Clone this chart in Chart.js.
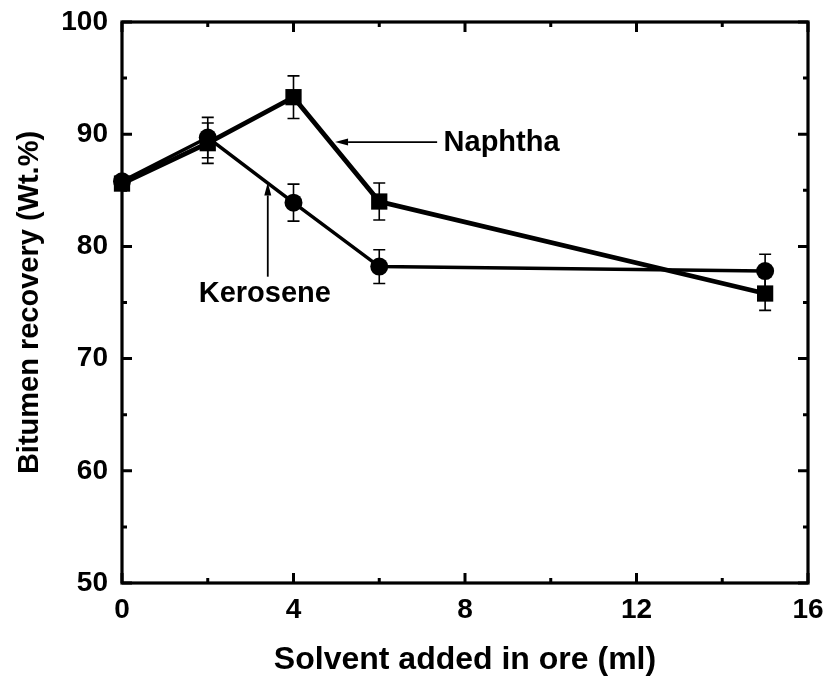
<!DOCTYPE html>
<html>
<head>
<meta charset="utf-8">
<title>Bitumen recovery vs solvent added</title>
<script src="https://cdn.jsdelivr.net/npm/chart.js@4.4.1/dist/chart.umd.min.js"></script>
<style>
  html, body { margin: 0; padding: 0; background: #ffffff; }
  #wrap { width: 831px; height: 684px; }
</style>
</head>
<body>
<div id="wrap"><canvas id="chart" width="831" height="684"></canvas></div>
<script>
// Solvent dosage (ml) and measured bitumen recovery (wt.%) with error bar half-widths
const solventMl = [0, 2, 4, 6, 15];
const naphthaRecovery = [85.6, 89.2, 93.3, 84.0, 75.8];
const naphthaError = [0, 1.8, 1.9, 1.65, 1.5];
const keroseneRecovery = [85.8, 89.7, 83.9, 78.2, 77.8];
const keroseneError = [0, 1.8, 1.65, 1.5, 1.5];

const xTicks = [0, 4, 8, 12, 16];
const yTicks = [50, 60, 70, 80, 90, 100];
const xMinorTicks = [2, 6, 10, 14];
const yMinorTicks = [55, 65, 75, 85, 95];

const FONT = "'Liberation Sans', Arial, Helvetica, sans-serif";

function toPoints(xs, ys, errs) {
  return xs.map((x, i) => ({ x: x, y: ys[i], err: errs[i] }));
}

// Vertical error bars with caps, drawn underneath the markers
const errorBars = {
  id: 'errorBars',
  beforeDatasetsDraw(chart) {
    const { ctx, scales: { x, y } } = chart;
    ctx.save();
    ctx.strokeStyle = '#000';
    ctx.lineWidth = 1.6;
    const cap = 6;
    chart.data.datasets.forEach(ds => {
      ds.data.forEach(p => {
        if (!p.err) return;
        const px = x.getPixelForValue(p.x);
        const top = y.getPixelForValue(p.y + p.err);
        const bot = y.getPixelForValue(p.y - p.err);
        ctx.beginPath();
        ctx.moveTo(px, top); ctx.lineTo(px, bot);
        ctx.moveTo(px - cap, top); ctx.lineTo(px + cap, top);
        ctx.moveTo(px - cap, bot); ctx.lineTo(px + cap, bot);
        ctx.stroke();
      });
    });
    ctx.restore();
  }
};

// Closed frame with inward-pointing major and minor ticks on all four sides
const frameTicks = {
  id: 'frameTicks',
  afterDraw(chart) {
    const { ctx, chartArea: a, scales: { x, y } } = chart;
    ctx.save();
    ctx.strokeStyle = '#000';
    ctx.lineWidth = 3;
    ctx.lineCap = 'butt';
    const major = 10, minor = 5;
    ctx.beginPath();
    const vTick = (v, len) => {
      const px = x.getPixelForValue(v);
      ctx.moveTo(px, a.bottom); ctx.lineTo(px, a.bottom - len);
      ctx.moveTo(px, a.top); ctx.lineTo(px, a.top + len);
    };
    const hTick = (v, len) => {
      const py = y.getPixelForValue(v);
      ctx.moveTo(a.left, py); ctx.lineTo(a.left + len, py);
      ctx.moveTo(a.right, py); ctx.lineTo(a.right - len, py);
    };
    xTicks.forEach(v => vTick(v, major));
    xMinorTicks.forEach(v => vTick(v, minor));
    yTicks.forEach(v => hTick(v, major));
    yMinorTicks.forEach(v => hTick(v, minor));
    ctx.stroke();
    ctx.lineWidth = 3.2;
    ctx.strokeRect(a.left, a.top, a.right - a.left, a.bottom - a.top);
    ctx.restore();
  }
};

// Series labels with pointer arrows
const seriesLabels = {
  id: 'seriesLabels',
  afterDraw(chart) {
    const { ctx, scales: { x, y } } = chart;
    ctx.save();
    ctx.strokeStyle = '#000';
    ctx.fillStyle = '#000';
    ctx.lineWidth = 1.8;
    const arrow = (x0, y0, x1, y1) => {
      const X0 = x.getPixelForValue(x0), Y0 = y.getPixelForValue(y0);
      const X1 = x.getPixelForValue(x1), Y1 = y.getPixelForValue(y1);
      const ang = Math.atan2(Y1 - Y0, X1 - X0);
      const len = 13, half = 3.5;
      const bx = X1 - len * Math.cos(ang), by = Y1 - len * Math.sin(ang);
      ctx.beginPath();
      ctx.moveTo(X0, Y0); ctx.lineTo(bx, by);
      ctx.stroke();
      ctx.beginPath();
      ctx.moveTo(X1, Y1);
      ctx.lineTo(bx + half * Math.sin(ang), by - half * Math.cos(ang));
      ctx.lineTo(bx - half * Math.sin(ang), by + half * Math.cos(ang));
      ctx.closePath();
      ctx.fill();
    };
    arrow(7.35, 89.3, 4.97, 89.3);
    arrow(3.4, 77.3, 3.4, 85.7);
    ctx.font = 'bold 29px ' + FONT;
    ctx.textBaseline = 'middle';
    ctx.textAlign = 'left';
    ctx.fillText('Naphtha', x.getPixelForValue(7.5), y.getPixelForValue(89.2));
    ctx.textAlign = 'center';
    ctx.fillText('Kerosene', x.getPixelForValue(3.33), y.getPixelForValue(75.8));
    ctx.restore();
  }
};

new Chart(document.getElementById('chart'), {
  type: 'line',
  data: {
    datasets: [
      {
        label: 'Naphtha',
        data: toPoints(solventMl, naphthaRecovery, naphthaError),
        borderColor: '#000',
        backgroundColor: '#000',
        borderWidth: 4.8,
        pointStyle: 'rect',
        pointRadius: 11.5,
        pointHoverRadius: 11.5,
        pointBorderWidth: 0,
        tension: 0,
        clip: false
      },
      {
        label: 'Kerosene',
        data: toPoints(solventMl, keroseneRecovery, keroseneError),
        borderColor: '#000',
        backgroundColor: '#000',
        borderWidth: 3.5,
        pointStyle: 'circle',
        pointRadius: 9,
        pointHoverRadius: 9,
        pointBorderWidth: 0,
        tension: 0,
        clip: false
      }
    ]
  },
  options: {
    responsive: false,
    animation: false,
    events: [],
    layout: { padding: { top: 22, right: 23, left: 0, bottom: 0 } },
    plugins: {
      legend: { display: false },
      tooltip: { enabled: false }
    },
    scales: {
      x: {
        type: 'linear',
        min: 0, max: 16,
        afterFit: s => { s.height = 101; s.paddingLeft = 0; s.paddingRight = 0; },
        afterBuildTicks: s => { s.ticks = xTicks.map(v => ({ value: v })); },
        grid: { display: false, drawTicks: false },
        border: { display: false },
        ticks: {
          padding: 10,
          color: '#000',
          font: { family: FONT, weight: 'bold', size: 28 }
        },
        title: {
          display: true,
          text: 'Solvent added in ore (ml)',
          color: '#000',
          font: { family: FONT, weight: 'bold', size: 32 },
          padding: { top: 0, bottom: 5 }
        }
      },
      y: {
        type: 'linear',
        min: 50, max: 100,
        afterFit: s => { s.width = 122; s.paddingTop = 0; s.paddingBottom = 0; },
        afterBuildTicks: s => { s.ticks = yTicks.map(v => ({ value: v })); },
        grid: { display: false, drawTicks: false },
        border: { display: false },
        ticks: {
          padding: 14,
          color: '#000',
          font: { family: FONT, weight: 'bold', size: 28 }
        },
        title: {
          display: true,
          text: 'Bitumen recovery (Wt.%)',
          color: '#000',
          font: { family: FONT, weight: 'bold', size: 29 },
          padding: { top: 13, bottom: 0 }
        }
      }
    }
  },
  plugins: [errorBars, frameTicks, seriesLabels]
});
</script>
</body>
</html>
